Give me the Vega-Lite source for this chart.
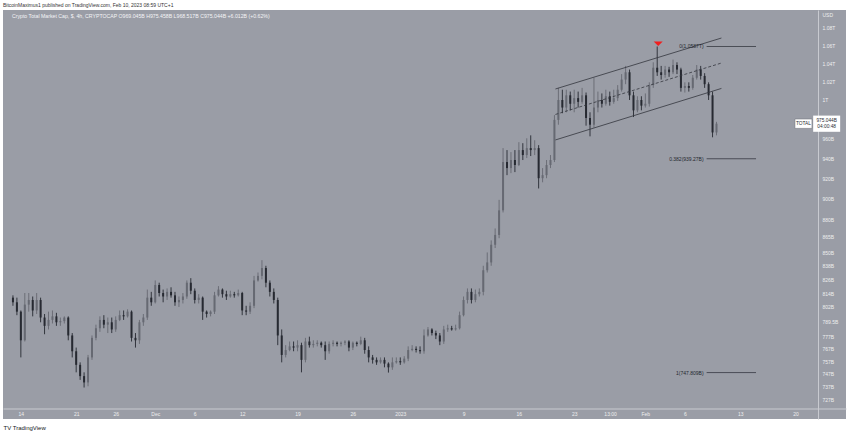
{
 "$schema": "https://vega.github.io/schema/vega-lite/v6.json",
 "width": 843,
 "height": 409,
 "autosize": {"type": "none"},
 "padding": {"left": 3, "top": 10, "right": 4, "bottom": 15},
 "background": "#ffffff",
 "config": {"view": {"fill": "#9a9da6", "stroke": null}, "font": "Liberation Sans"},
 "title": {"text": "BitcoinMaximus1 published on TradingView.com, Feb 10, 2023 08:59 UTC+1", "anchor": "start", "frame": "group", "fontSize": 5, "fontWeight": "normal", "color": "#333333", "offset": 2},
 "datasets": {
  "bars": [
   {"t":"2022-11-13T00:00","o":810,"h":812,"l":803,"c":806},
   {"t":"2022-11-13T12:00","o":806,"h":810,"l":795,"c":798},
   {"t":"2022-11-14T00:00","o":798,"h":799,"l":760,"c":774},
   {"t":"2022-11-14T12:00","o":774,"h":814,"l":773,"c":804},
   {"t":"2022-11-15T00:00","o":804,"h":814,"l":798,"c":808},
   {"t":"2022-11-15T12:00","o":808,"h":811,"l":794,"c":799},
   {"t":"2022-11-16T00:00","o":799,"h":814,"l":796,"c":808},
   {"t":"2022-11-16T12:00","o":808,"h":810,"l":789,"c":793},
   {"t":"2022-11-17T00:00","o":793,"h":796,"l":779,"c":786},
   {"t":"2022-11-17T12:00","o":786,"h":798,"l":783,"c":791},
   {"t":"2022-11-18T00:00","o":791,"h":799,"l":788,"c":794},
   {"t":"2022-11-18T12:00","o":794,"h":797,"l":786,"c":789},
   {"t":"2022-11-19T00:00","o":789,"h":793,"l":786,"c":790},
   {"t":"2022-11-19T12:00","o":790,"h":794,"l":788,"c":793},
   {"t":"2022-11-20T00:00","o":793,"h":794,"l":774,"c":778},
   {"t":"2022-11-20T12:00","o":778,"h":780,"l":760,"c":765},
   {"t":"2022-11-21T00:00","o":765,"h":768,"l":748,"c":754},
   {"t":"2022-11-21T12:00","o":754,"h":756,"l":742,"c":745},
   {"t":"2022-11-22T00:00","o":745,"h":748,"l":736,"c":740},
   {"t":"2022-11-22T12:00","o":740,"h":762,"l":737,"c":760},
   {"t":"2022-11-23T00:00","o":760,"h":778,"l":758,"c":776},
   {"t":"2022-11-23T12:00","o":776,"h":787,"l":774,"c":784},
   {"t":"2022-11-24T00:00","o":784,"h":794,"l":781,"c":791},
   {"t":"2022-11-24T12:00","o":791,"h":795,"l":784,"c":787},
   {"t":"2022-11-25T00:00","o":787,"h":793,"l":780,"c":789},
   {"t":"2022-11-25T12:00","o":789,"h":793,"l":780,"c":783},
   {"t":"2022-11-26T00:00","o":783,"h":794,"l":781,"c":791},
   {"t":"2022-11-26T12:00","o":791,"h":799,"l":790,"c":795},
   {"t":"2022-11-27T00:00","o":795,"h":799,"l":791,"c":794},
   {"t":"2022-11-27T12:00","o":794,"h":800,"l":793,"c":798},
   {"t":"2022-11-28T00:00","o":798,"h":799,"l":773,"c":776},
   {"t":"2022-11-28T12:00","o":776,"h":780,"l":768,"c":774},
   {"t":"2022-11-29T00:00","o":774,"h":791,"l":771,"c":789},
   {"t":"2022-11-29T12:00","o":789,"h":796,"l":786,"c":793},
   {"t":"2022-11-30T00:00","o":793,"h":817,"l":791,"c":810},
   {"t":"2022-11-30T12:00","o":810,"h":815,"l":803,"c":806},
   {"t":"2022-12-01T00:00","o":806,"h":825,"l":805,"c":821},
   {"t":"2022-12-01T12:00","o":821,"h":823,"l":811,"c":814},
   {"t":"2022-12-02T00:00","o":814,"h":817,"l":806,"c":811},
   {"t":"2022-12-02T12:00","o":811,"h":818,"l":808,"c":815},
   {"t":"2022-12-03T00:00","o":815,"h":819,"l":810,"c":812},
   {"t":"2022-12-03T12:00","o":812,"h":815,"l":803,"c":806},
   {"t":"2022-12-04T00:00","o":806,"h":811,"l":802,"c":808},
   {"t":"2022-12-04T12:00","o":808,"h":814,"l":805,"c":811},
   {"t":"2022-12-05T00:00","o":811,"h":825,"l":809,"c":823},
   {"t":"2022-12-05T12:00","o":823,"h":827,"l":813,"c":816},
   {"t":"2022-12-06T00:00","o":816,"h":818,"l":805,"c":808},
   {"t":"2022-12-06T12:00","o":808,"h":813,"l":805,"c":810},
   {"t":"2022-12-07T00:00","o":810,"h":811,"l":791,"c":798},
   {"t":"2022-12-07T12:00","o":798,"h":799,"l":793,"c":796},
   {"t":"2022-12-08T00:00","o":796,"h":799,"l":794,"c":798},
   {"t":"2022-12-08T12:00","o":798,"h":815,"l":796,"c":812},
   {"t":"2022-12-09T00:00","o":812,"h":820,"l":811,"c":817},
   {"t":"2022-12-09T12:00","o":817,"h":818,"l":810,"c":813},
   {"t":"2022-12-10T00:00","o":813,"h":816,"l":808,"c":811},
   {"t":"2022-12-10T12:00","o":811,"h":816,"l":810,"c":813},
   {"t":"2022-12-11T00:00","o":813,"h":815,"l":810,"c":812},
   {"t":"2022-12-11T12:00","o":812,"h":817,"l":811,"c":814},
   {"t":"2022-12-12T00:00","o":814,"h":815,"l":795,"c":799},
   {"t":"2022-12-12T12:00","o":799,"h":803,"l":795,"c":798},
   {"t":"2022-12-13T00:00","o":798,"h":806,"l":796,"c":803},
   {"t":"2022-12-13T12:00","o":803,"h":829,"l":801,"c":825},
   {"t":"2022-12-14T00:00","o":825,"h":832,"l":824,"c":829},
   {"t":"2022-12-14T12:00","o":829,"h":843,"l":826,"c":836},
   {"t":"2022-12-15T00:00","o":836,"h":838,"l":819,"c":823},
   {"t":"2022-12-15T12:00","o":823,"h":825,"l":811,"c":815},
   {"t":"2022-12-16T00:00","o":815,"h":818,"l":805,"c":808},
   {"t":"2022-12-16T12:00","o":808,"h":810,"l":770,"c":778},
   {"t":"2022-12-17T00:00","o":778,"h":783,"l":756,"c":762},
   {"t":"2022-12-17T12:00","o":762,"h":770,"l":760,"c":766},
   {"t":"2022-12-18T00:00","o":766,"h":773,"l":765,"c":769},
   {"t":"2022-12-18T12:00","o":769,"h":773,"l":765,"c":768},
   {"t":"2022-12-19T00:00","o":768,"h":774,"l":765,"c":770},
   {"t":"2022-12-19T12:00","o":770,"h":772,"l":748,"c":758},
   {"t":"2022-12-20T00:00","o":758,"h":776,"l":756,"c":773},
   {"t":"2022-12-20T12:00","o":773,"h":777,"l":768,"c":770},
   {"t":"2022-12-21T00:00","o":770,"h":774,"l":768,"c":771},
   {"t":"2022-12-21T12:00","o":771,"h":774,"l":769,"c":772},
   {"t":"2022-12-22T00:00","o":772,"h":773,"l":768,"c":770},
   {"t":"2022-12-22T12:00","o":770,"h":773,"l":758,"c":765},
   {"t":"2022-12-23T00:00","o":765,"h":773,"l":763,"c":771},
   {"t":"2022-12-23T12:00","o":771,"h":774,"l":769,"c":772},
   {"t":"2022-12-24T00:00","o":772,"h":773,"l":769,"c":771},
   {"t":"2022-12-24T12:00","o":771,"h":773,"l":769,"c":772},
   {"t":"2022-12-25T00:00","o":772,"h":774,"l":770,"c":773},
   {"t":"2022-12-25T12:00","o":773,"h":774,"l":765,"c":768},
   {"t":"2022-12-26T00:00","o":768,"h":773,"l":766,"c":772},
   {"t":"2022-12-26T12:00","o":772,"h":773,"l":769,"c":771},
   {"t":"2022-12-27T00:00","o":771,"h":777,"l":770,"c":774},
   {"t":"2022-12-27T12:00","o":774,"h":776,"l":763,"c":766},
   {"t":"2022-12-28T00:00","o":766,"h":769,"l":756,"c":760},
   {"t":"2022-12-28T12:00","o":760,"h":762,"l":755,"c":758},
   {"t":"2022-12-29T00:00","o":758,"h":760,"l":754,"c":756},
   {"t":"2022-12-29T12:00","o":756,"h":760,"l":755,"c":758},
   {"t":"2022-12-30T00:00","o":758,"h":760,"l":752,"c":755},
   {"t":"2022-12-30T12:00","o":755,"h":756,"l":747.8,"c":752},
   {"t":"2022-12-31T00:00","o":752,"h":760,"l":750,"c":756},
   {"t":"2022-12-31T12:00","o":756,"h":760,"l":755,"c":757},
   {"t":"2023-01-01T00:00","o":757,"h":760,"l":754,"c":756},
   {"t":"2023-01-01T12:00","o":756,"h":761,"l":755,"c":759},
   {"t":"2023-01-02T00:00","o":759,"h":769,"l":757,"c":766},
   {"t":"2023-01-02T12:00","o":766,"h":770,"l":765,"c":767},
   {"t":"2023-01-03T00:00","o":767,"h":769,"l":764,"c":766},
   {"t":"2023-01-03T12:00","o":766,"h":769,"l":763,"c":765},
   {"t":"2023-01-04T00:00","o":765,"h":783,"l":763,"c":778},
   {"t":"2023-01-04T12:00","o":778,"h":785,"l":777,"c":783},
   {"t":"2023-01-05T00:00","o":783,"h":784,"l":778,"c":780},
   {"t":"2023-01-05T12:00","o":780,"h":782,"l":775,"c":778},
   {"t":"2023-01-06T00:00","o":778,"h":780,"l":770,"c":773},
   {"t":"2023-01-06T12:00","o":773,"h":786,"l":771,"c":783},
   {"t":"2023-01-07T00:00","o":783,"h":787,"l":781,"c":784},
   {"t":"2023-01-07T12:00","o":784,"h":786,"l":782,"c":783},
   {"t":"2023-01-08T00:00","o":783,"h":787,"l":782,"c":784},
   {"t":"2023-01-08T12:00","o":784,"h":798,"l":783,"c":795},
   {"t":"2023-01-09T00:00","o":795,"h":811,"l":794,"c":808},
   {"t":"2023-01-09T12:00","o":808,"h":818,"l":805,"c":815},
   {"t":"2023-01-10T00:00","o":815,"h":818,"l":805,"c":808},
   {"t":"2023-01-10T12:00","o":808,"h":817,"l":806,"c":813},
   {"t":"2023-01-11T00:00","o":813,"h":818,"l":811,"c":815},
   {"t":"2023-01-11T12:00","o":815,"h":838,"l":812,"c":834},
   {"t":"2023-01-12T00:00","o":834,"h":850,"l":832,"c":841},
   {"t":"2023-01-12T12:00","o":841,"h":861,"l":838,"c":857},
   {"t":"2023-01-13T00:00","o":857,"h":872,"l":854,"c":866},
   {"t":"2023-01-13T12:00","o":866,"h":899,"l":863,"c":889},
   {"t":"2023-01-14T00:00","o":889,"h":950,"l":887,"c":936},
   {"t":"2023-01-14T12:00","o":936,"h":948,"l":923,"c":930},
   {"t":"2023-01-15T00:00","o":930,"h":946,"l":925,"c":938},
   {"t":"2023-01-15T12:00","o":938,"h":948,"l":926,"c":933},
   {"t":"2023-01-16T00:00","o":933,"h":956,"l":932,"c":948},
   {"t":"2023-01-16T12:00","o":948,"h":955,"l":938,"c":943},
   {"t":"2023-01-17T00:00","o":943,"h":960,"l":940,"c":950},
   {"t":"2023-01-17T12:00","o":950,"h":963,"l":942,"c":948},
   {"t":"2023-01-18T00:00","o":948,"h":958,"l":943,"c":950},
   {"t":"2023-01-18T12:00","o":950,"h":953,"l":910,"c":920},
   {"t":"2023-01-19T00:00","o":920,"h":930,"l":916,"c":923},
   {"t":"2023-01-19T12:00","o":923,"h":938,"l":920,"c":933},
   {"t":"2023-01-20T00:00","o":933,"h":943,"l":930,"c":938},
   {"t":"2023-01-20T12:00","o":938,"h":984,"l":936,"c":979},
   {"t":"2023-01-21T00:00","o":979,"h":1013,"l":974,"c":1000},
   {"t":"2023-01-21T12:00","o":1000,"h":1011,"l":986,"c":992},
   {"t":"2023-01-22T00:00","o":992,"h":1011,"l":987,"c":1005},
   {"t":"2023-01-22T12:00","o":1005,"h":1009,"l":989,"c":996},
   {"t":"2023-01-23T00:00","o":996,"h":1011,"l":987,"c":1002},
   {"t":"2023-01-23T12:00","o":1002,"h":1009,"l":992,"c":998},
   {"t":"2023-01-24T00:00","o":998,"h":1013,"l":996,"c":1005},
   {"t":"2023-01-24T12:00","o":1005,"h":1008,"l":973,"c":981},
   {"t":"2023-01-25T00:00","o":981,"h":987,"l":962,"c":974},
   {"t":"2023-01-25T12:00","o":974,"h":1024,"l":971,"c":992},
   {"t":"2023-01-26T00:00","o":992,"h":1009,"l":987,"c":1000},
   {"t":"2023-01-26T12:00","o":1000,"h":1007,"l":992,"c":996},
   {"t":"2023-01-27T00:00","o":996,"h":1011,"l":994,"c":1004},
   {"t":"2023-01-27T12:00","o":1004,"h":1009,"l":994,"c":998},
   {"t":"2023-01-28T00:00","o":998,"h":1011,"l":996,"c":1002},
   {"t":"2023-01-28T12:00","o":1002,"h":1016,"l":999,"c":1011},
   {"t":"2023-01-29T00:00","o":1011,"h":1028,"l":1009,"c":1022},
   {"t":"2023-01-29T12:00","o":1022,"h":1037,"l":1017,"c":1030},
   {"t":"2023-01-30T00:00","o":1030,"h":1033,"l":1000,"c":1005},
   {"t":"2023-01-30T12:00","o":1005,"h":1009,"l":982,"c":989},
   {"t":"2023-01-31T00:00","o":989,"h":1004,"l":987,"c":1000},
   {"t":"2023-01-31T12:00","o":1000,"h":1004,"l":989,"c":994},
   {"t":"2023-02-01T00:00","o":994,"h":1007,"l":992,"c":996},
   {"t":"2023-02-01T12:00","o":996,"h":1019,"l":993,"c":1016},
   {"t":"2023-02-02T00:00","o":1016,"h":1041,"l":1013,"c":1035},
   {"t":"2023-02-02T12:00","o":1035,"h":1058.7,"l":1026,"c":1030},
   {"t":"2023-02-03T00:00","o":1030,"h":1037,"l":1022,"c":1027},
   {"t":"2023-02-03T12:00","o":1027,"h":1037,"l":1024,"c":1033},
   {"t":"2023-02-04T00:00","o":1033,"h":1036,"l":1025,"c":1030},
   {"t":"2023-02-04T12:00","o":1030,"h":1044,"l":1028,"c":1038},
   {"t":"2023-02-05T00:00","o":1038,"h":1041,"l":1028,"c":1033},
   {"t":"2023-02-05T12:00","o":1033,"h":1035,"l":1009,"c":1013},
   {"t":"2023-02-06T00:00","o":1013,"h":1019,"l":1008,"c":1015},
   {"t":"2023-02-06T12:00","o":1015,"h":1019,"l":1009,"c":1013},
   {"t":"2023-02-07T00:00","o":1013,"h":1027,"l":1011,"c":1024},
   {"t":"2023-02-07T12:00","o":1024,"h":1038,"l":1022,"c":1033},
   {"t":"2023-02-08T00:00","o":1033,"h":1037,"l":1022,"c":1026},
   {"t":"2023-02-08T12:00","o":1026,"h":1029,"l":1013,"c":1017},
   {"t":"2023-02-09T00:00","o":1017,"h":1019,"l":1000,"c":1005},
   {"t":"2023-02-09T12:00","o":1005,"h":1009,"l":961,"c":966},
   {"t":"2023-02-10T00:00","o":966,"h":977,"l":963,"c":975.044}
  ],
  "channel": [
   {"g":"upper","t":"2023-01-20T15:00","p":1011.8},
   {"g":"upper","t":"2023-02-10T15:00","p":1068.3},
   {"g":"lower","t":"2023-01-20T15:00","p":958.3},
   {"g":"lower","t":"2023-02-10T15:00","p":1012.4}
  ],
  "mid": [
   {"g":"mid","t":"2023-01-20T15:00","p":984.7},
   {"g":"mid","t":"2023-02-10T15:00","p":1040.2}
  ],
  "fib": [
   {"t":"2023-02-08T18:00","t2":"2023-02-15T00:00","p":1058.7,"label":"0(1.0587T)"},
   {"t":"2023-02-08T18:00","t2":"2023-02-15T00:00","p":939.27,"label":"0.382(939.27B)"},
   {"t":"2023-02-08T18:00","t2":"2023-02-15T00:00","p":747.809,"label":"1(747.809B)"}
  ],
  "peak": [{"t":"2023-02-02T15:00","p":1061.7}],
  "header": [{"t":"2022-11-12T21:00","p":1093.7,"label":"Crypto Total Market Cap, $, 4h, CRYPTOCAP  O969.045B  H975.458B  L968.517B  C975.044B  +6.012B (+0.62%)"}],
  "pricebox": [{"t":"2023-02-23T22:30","p":975.044,"label":"975.044B\n04:00:48"}],
  "namebox": [{"t":"2023-02-21T00:00","p":975.044,"label":"TOTAL"}]
 },
 "layer": [
  {
   "data": {"name": "bars"},
   "mark": {"type": "rule", "strokeWidth": 0.9},
   "encoding": {
    "x": {"field": "t", "type": "temporal", "title": "TV TradingView",
     "scale": {"domain": [{"year":2022,"month":11,"date":12,"hours":9},{"year":2023,"month":2,"date":25,"hours":18}]},
     "axis": {
      "orient": "bottom", "offset": -10.5,
      "values": [{"year":2022,"month":11,"date":14},{"year":2022,"month":11,"date":21},{"year":2022,"month":11,"date":26},{"year":2022,"month":12,"date":1},{"year":2022,"month":12,"date":6},{"year":2022,"month":12,"date":12},{"year":2022,"month":12,"date":19},{"year":2022,"month":12,"date":26},{"year":2023,"month":1,"date":1},{"year":2023,"month":1,"date":9},{"year":2023,"month":1,"date":16},{"year":2023,"month":1,"date":23},{"year":2023,"month":1,"date":27,"hours":13},{"year":2023,"month":2,"date":1},{"year":2023,"month":2,"date":6},{"year":2023,"month":2,"date":13},{"year":2023,"month":2,"date":20}],
      "labelExpr": "month(datum.value)==0 && date(datum.value)==1 && hours(datum.value)==0 ? '2023' : date(datum.value)==1 ? timeFormat(datum.value,'%b') : hours(datum.value)==13 ? '13:00' : timeFormat(datum.value,'%-d')",
      "labelColor": "#eeeeee", "labelFontSize": 5, "labelPadding": 2.5, "labelFlush": false,
      "ticks": false, "grid": false, "domainColor": "#c8cad0", "domainWidth": 1,
      "titleAnchor": "start", "titleAlign": "left", "titleX": 0, "titleY": 18.5,
      "titleBaseline": "middle", "titleFontSize": 6, "titleFontWeight": "normal", "titleColor": "#131722"
     }
    },
    "y": {"field": "l", "type": "quantitative", "title": null,
     "scale": {"type": "log", "domain": [711.7, 1100.7], "nice": false, "zero": false},
     "axis": {
      "orient": "right", "offset": -28,
      "values": [727, 737, 747, 757, 767, 777, 789.5, 802, 814, 826, 838, 850, 865, 880, 900, 920, 940, 960, 1000, 1020, 1040, 1060, 1080, 1095],
      "labelExpr": "datum.value > 1090 ? 'USD' : datum.value == 1000 ? '1T' : datum.value > 1000 ? format(datum.value/1000,'.2f') + 'T' : datum.value == 789.5 ? '789.5B' : format(datum.value,'d') + 'B'",
      "labelColor": "#eeeeee", "labelFontSize": 5, "labelPadding": 4, "labelAlign": "left", "labelBaseline": "middle",
      "ticks": false, "grid": false, "domainColor": "#c8cad0", "domainWidth": 1
     }
    },
    "y2": {"field": "h"},
    "color": {"condition": {"test": "datum.c >= datum.o", "value": "#666972"}, "value": "#262931"}
   }
  },
  {
   "data": {"name": "bars"},
   "mark": {"type": "bar", "size": 2},
   "encoding": {
    "x": {"field": "t", "type": "temporal", "title": "TV TradingView"},
    "y": {"field": "o", "type": "quantitative", "title": null},
    "y2": {"field": "c"},
    "color": {"condition": {"test": "datum.c >= datum.o", "value": "#666972"}, "value": "#262931"}
   }
  },
  {
   "data": {"name": "channel"},
   "mark": {"type": "line", "color": "#33363e", "strokeWidth": 0.8},
   "encoding": {
    "x": {"field": "t", "type": "temporal", "title": "TV TradingView"},
    "y": {"field": "p", "type": "quantitative", "title": null},
    "detail": {"field": "g"}
   }
  },
  {
   "data": {"name": "mid"},
   "mark": {"type": "line", "color": "#33363e", "strokeWidth": 0.8, "strokeDash": [3, 2]},
   "encoding": {
    "x": {"field": "t", "type": "temporal", "title": "TV TradingView"},
    "y": {"field": "p", "type": "quantitative", "title": null}
   }
  },
  {
   "data": {"name": "fib"},
   "mark": {"type": "rule", "color": "#4a4d56", "strokeWidth": 1},
   "encoding": {
    "x": {"field": "t", "type": "temporal", "title": "TV TradingView"},
    "x2": {"field": "t2"},
    "y": {"field": "p", "type": "quantitative", "title": null}
   }
  },
  {
   "data": {"name": "fib"},
   "mark": {"type": "text", "align": "right", "baseline": "middle", "dx": -3, "fontSize": 5, "color": "#25282f"},
   "encoding": {
    "x": {"field": "t", "type": "temporal", "title": "TV TradingView"},
    "y": {"field": "p", "type": "quantitative", "title": null},
    "text": {"field": "label"}
   }
  },
  {
   "data": {"name": "peak"},
   "mark": {"type": "point", "shape": "M-1,-0.5L1,-0.5L0,0.5Z", "size": 81, "filled": true, "color": "#f01e1e", "opacity": 1},
   "encoding": {
    "x": {"field": "t", "type": "temporal", "title": "TV TradingView"},
    "y": {"field": "p", "type": "quantitative", "title": null}
   }
  },
  {
   "data": {"name": "header"},
   "mark": {"type": "text", "align": "left", "baseline": "middle", "fontSize": 5.2, "color": "#f4f4f6"},
   "encoding": {
    "x": {"field": "t", "type": "temporal", "title": "TV TradingView"},
    "y": {"field": "p", "type": "quantitative", "title": null},
    "text": {"field": "label"}
   }
  },
  {
   "data": {"name": "pricebox"},
   "mark": {"type": "point", "shape": "M-1,-0.6H1V0.6H-1Z", "size": 729, "filled": true, "color": "#ffffff", "opacity": 1},
   "encoding": {
    "x": {"field": "t", "type": "temporal", "title": "TV TradingView"},
    "y": {"field": "p", "type": "quantitative", "title": null}
   }
  },
  {
   "data": {"name": "namebox"},
   "mark": {"type": "point", "shape": "M-1,-0.55H1V0.55H-1Z", "size": 289, "filled": true, "fill": "#ffffff", "stroke": "#6a6d75", "strokeWidth": 0.5, "opacity": 1},
   "encoding": {
    "x": {"field": "t", "type": "temporal", "title": "TV TradingView"},
    "y": {"field": "p", "type": "quantitative", "title": null}
   }
  },
  {
   "data": {"name": "pricebox"},
   "mark": {"type": "text", "align": "center", "baseline": "middle", "fontSize": 4.8, "color": "#2a2d35", "lineBreak": "\n", "lineHeight": 6.5, "dy": -3},
   "encoding": {
    "x": {"field": "t", "type": "temporal", "title": "TV TradingView"},
    "y": {"field": "p", "type": "quantitative", "title": null},
    "text": {"field": "label"}
   }
  },
  {
   "data": {"name": "namebox"},
   "mark": {"type": "text", "align": "center", "baseline": "middle", "fontSize": 4.8, "color": "#2a2d35"},
   "encoding": {
    "x": {"field": "t", "type": "temporal", "title": "TV TradingView"},
    "y": {"field": "p", "type": "quantitative", "title": null},
    "text": {"field": "label"}
   }
  }
 ]
}
